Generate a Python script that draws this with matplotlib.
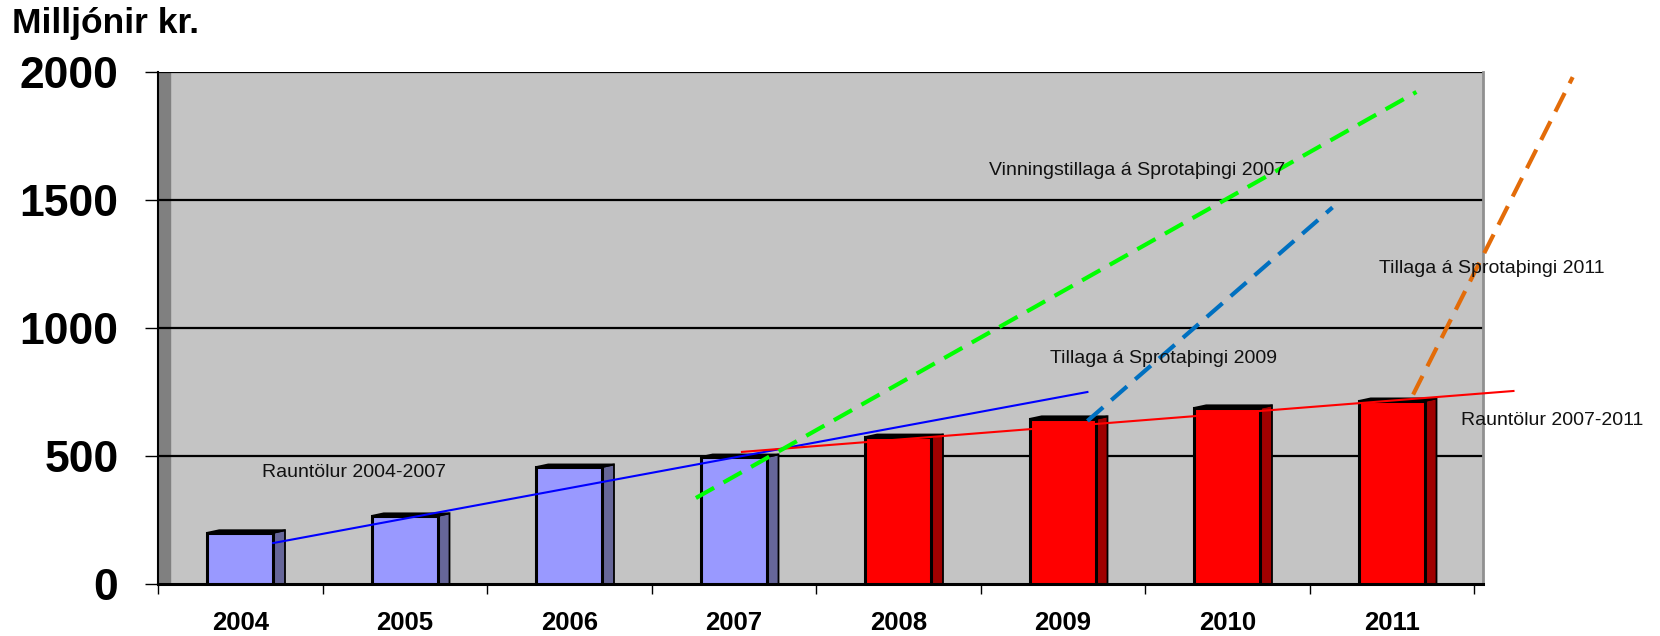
import matplotlib
matplotlib.use('Agg')
import matplotlib.pyplot as plt
from matplotlib.patches import Polygon, Rectangle

# ===== DỮ LIỆU =====
years = ['2004', '2005', '2006', '2007', '2008', '2009', '2010', '2011']
values = [200, 266, 457, 496, 574, 645, 688, 715]
n_actual_old = 4  # 2004-2007 blue, 2008-2011 red

y_ticks = [0, 500, 1000, 1500, 2000]

# trend / proposal lines (x in category units, y in milljónir kr.)
trend_0407_x = [0.20, 5.15]
trend_0407_y = [160, 750]
trend_0711_x = [3.05, 7.74]
trend_0711_y = [516, 754]
prop2007_x = [2.77, 7.15]
prop2007_y = [336, 1922]
prop2009_x = [5.15, 6.64]
prop2009_y = [637, 1471]
prop2011_x = [7.13, 8.10]
prop2011_y = [740, 1980]

labels = [
    ('Rauntölur 2004-2007', 0.13, 418),
    ('Vinningstillaga á Sprotaþingi 2007', 4.55, 1598),
    ('Tillaga á Sprotaþingi 2009', 4.92, 863),
    ('Tillaga á Sprotaþingi 2011', 6.92, 1215),
    ('Rauntölur 2007-2011', 7.42, 621),
]

plt.rcParams['font.family'] = ['Liberation Sans', 'DejaVu Sans']

fig = plt.figure(figsize=(16.6, 6.36), dpi=100)
W, H = 1660, 636
ax = fig.add_axes([158 / W, (636 - 584) / H, (1483 - 158) / W, (584 - 72) / H])

cat_px = 164.5
xmax = 7.5 + (1483 - 1474) / cat_px
ax.set_xlim(-0.5, xmax)
ax.set_ylim(0, 2000)

# ===== NỀN 3D =====
ax.set_facecolor('#c4c4c4')
wall = 12 / cat_px
ax.axvspan(-0.5, -0.5 + wall, color='#808080', zorder=0.5)
for v in y_ticks[1:]:
    ax.axhline(v, color='black', lw=1.6, zorder=1)

# ===== CỘT =====
depth = 0.072
dy = 10
half = 0.2
for i, v in enumerate(values):
    if i < n_actual_old:
        front, side = '#9999ff', '#666699'
    else:
        front, side = '#ff0000', '#a00000'
    ax.add_patch(Polygon([(i + half, 0), (i + half + depth, 0),
                          (i + half + depth, v + dy), (i + half, v)],
                         closed=True, facecolor=side, edgecolor='black', lw=1.3, zorder=2))
    ax.add_patch(Polygon([(i - half, v), (i - half + depth, v + dy),
                          (i + half + depth, v + dy), (i + half, v)],
                         closed=True, facecolor='black', edgecolor='black', lw=1.3, zorder=2))
    ax.add_patch(Rectangle((i - half, 0), 2 * half, v, facecolor=front,
                           edgecolor='black', lw=2.2, zorder=3))

# ===== ĐƯỜNG =====
ax.plot(trend_0407_x, trend_0407_y, color='#0000ff', lw=1.5, zorder=4, clip_on=False)
ax.plot(trend_0711_x, trend_0711_y, color='#ff0000', lw=1.5, zorder=4, clip_on=False)
dash_kw = dict(lw=3, dashes=(5, 2.6), zorder=4, clip_on=False)
ax.plot(prop2007_x, prop2007_y, color='#00ff00', **dash_kw)
ax.plot(prop2009_x, prop2009_y, color='#0070c0', **dash_kw)
ax.plot(prop2011_x, prop2011_y, color='#e36c09', **dash_kw)

for txt, x, y in labels:
    ax.text(x, y, txt, fontsize=14, ha='left', va='baseline', color='#111111',
            zorder=5, clip_on=False)

# ===== TRỤC =====
ax.spines['top'].set_visible(False)
ax.spines['right'].set_color('#909090')
ax.spines['right'].set_linewidth(2)
ax.spines['left'].set_linewidth(1.5)
ax.spines['bottom'].set_linewidth(2.2)

ax.set_yticks(y_ticks)
ax.set_yticklabels([str(t) for t in y_ticks], fontsize=32, fontweight='bold')
ax.tick_params(axis='y', length=9.5, width=1, pad=19)

ax.set_xticks(range(len(years)))
ax.set_xticklabels(years, fontsize=18.5, fontweight='bold')
ax.set_xticks([i - 0.5 for i in range(len(years) + 1)], minor=True)
ax.tick_params(axis='x', which='major', length=0, pad=19.5)
ax.tick_params(axis='x', which='minor', length=7, width=1)

fig.text(12 / W, 1 - 33 / H, 'Milljónir kr.', fontsize=25.5, fontweight='bold',
         ha='left', va='baseline')

plt.savefig('out.png', dpi=100)
plt.close()
